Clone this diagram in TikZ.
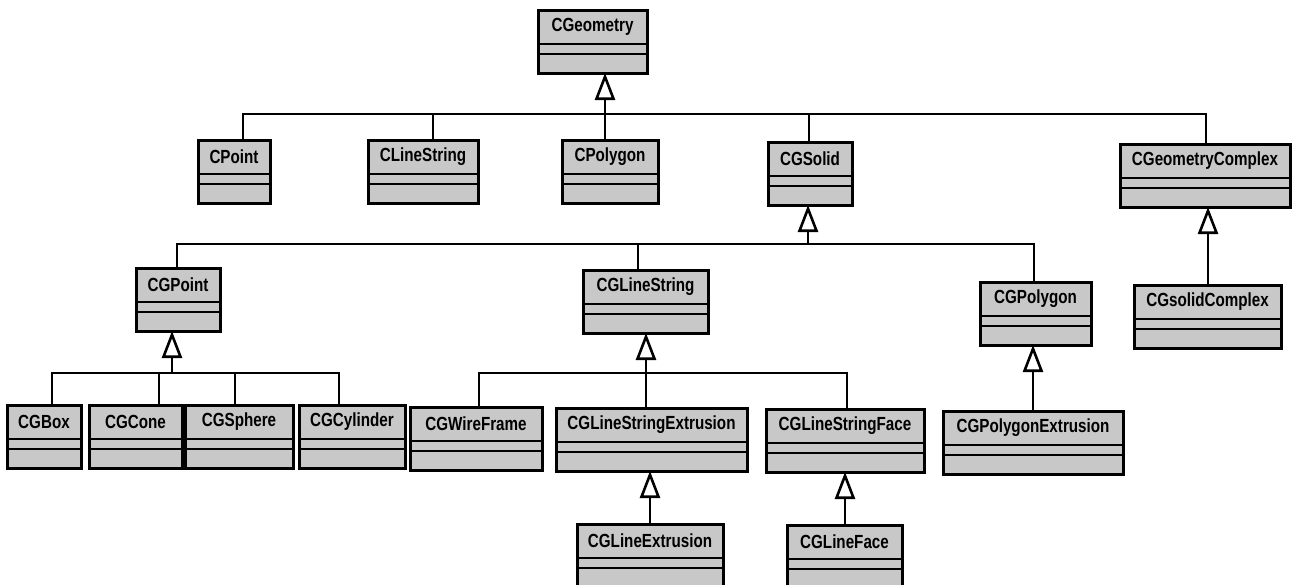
\documentclass[tikz,border=0pt]{standalone}
\usepackage{fontspec}
\newfontfamily\umlfont{Liberation Sans}[FakeStretch=0.8]
\usetikzlibrary{arrows.meta,calc}
\definecolor{boxgray}{RGB}{200,200,200}
\tikzset{
  umlbox/.style={draw=black, line width=3pt, fill=boxgray, inner sep=0pt, outer sep=0pt, rectangle},
  umltext/.style={inner sep=0pt, font=\umlfont\bfseries\fontsize{19}{19}\selectfont, text=black},
  divider/.style={draw=black, line width=2.6pt},
  conn/.style={draw=black, line width=2.6pt, line cap=rect},
  gen/.style={draw=black, line width=2.6pt, -{Triangle[open, length=27pt, width=20pt, line width=2.6pt]}}
}
\newcommand\umlbox[5]{%
  \node[umlbox, minimum width={#3pt-#2pt}, minimum height=63pt, anchor=north west] (#1) at (#2,#4) {};
  \node[umltext] (#1-t) at ($(#1.north)+(0,17)$) {#5};
  \draw[divider] ([yshift=-34pt]#1.north west) -- ([yshift=-34pt]#1.north east);
  \draw[divider] ([yshift=-44pt]#1.north west) -- ([yshift=-44pt]#1.north east);
}
\begin{document}
\begin{tikzpicture}[x=1pt, y=-1pt]
\useasboundingbox (0,0) rectangle (1298,584);
\clip (0,0) rectangle (1298,584);
\fill[white] (0,0) rectangle (1298,584);

% boxes
\umlbox{CGeometry}{538}{647}{10}{CGeometry}
\umlbox{CPoint}{198}{270}{140}{CPoint}
\umlbox{CLineString}{368}{478}{140}{CLineString}
\umlbox{CPolygon}{562}{658}{140}{CPolygon}
\umlbox{CGSolid}{768}{852}{142}{CGSolid}
\umlbox{CGeometryComplex}{1120}{1290}{144}{CGeometryComplex}
\umlbox{CGPoint}{136}{220}{268}{CGPoint}
\umlbox{CGLineString}{583}{708}{270}{CGLineString}
\umlbox{CGPolygon}{980}{1091}{282}{CGPolygon}
\umlbox{CGsolidComplex}{1134}{1281}{285}{CGsolidComplex}
\umlbox{CGBox}{7}{81}{405}{CGBox}
\umlbox{CGCone}{89}{182}{405}{CGCone}
\umlbox{CGSphere}{185}{293}{405}{CGSphere}
\umlbox{CGCylinder}{299}{405}{405}{CGCylinder}
\umlbox{CGWireFrame}{410}{542}{407}{CGWireFrame}
\umlbox{CGLineStringExtrusion}{556}{747}{408}{CGLineStringExtrusion}
\umlbox{CGLineStringFace}{766}{924}{409}{CGLineStringFace}
\umlbox{CGPolygonExtrusion}{943}{1123}{411}{CGPolygonExtrusion}
\umlbox{CGLineExtrusion}{577}{723}{524}{CGLineExtrusion}
\umlbox{CGLineFace}{787}{902}{525}{CGLineFace}

% level 1 bus
\coordinate (j1) at (605,114);
\coordinate (s1a) at (243,114);
\coordinate (s1b) at (433,114);
\coordinate (s1d) at (809,114);
\coordinate (s1e) at (1206,114);
\draw[conn] (s1a) -- (s1e);
\draw[conn] (s1a) -- (s1a |- CPoint.north);
\draw[conn] (s1b) -- (s1b |- CLineString.north);
\draw[conn] (j1) -- (j1 |- CPolygon.north);
\draw[conn] (s1d) -- (s1d |- CGSolid.north);
\draw[conn] (s1e) -- (s1e |- CGeometryComplex.north);
\draw[gen] (j1) -- (j1 |- CGeometry.south);

% level 2 bus (children of CGSolid)
\coordinate (j2) at (808,244);
\coordinate (s2a) at (177,244);
\coordinate (s2b) at (638,244);
\coordinate (s2c) at (1034,244);
\draw[conn] (s2a) -- (s2c);
\draw[conn] (s2a) -- (s2a |- CGPoint.north);
\draw[conn] (s2b) -- (s2b |- CGLineString.north);
\draw[conn] (s2c) -- (s2c |- CGPolygon.north);
\draw[gen] (j2) -- (j2 |- CGSolid.south);

% CGsolidComplex -> CGeometryComplex
\coordinate (j5) at (1208,285);
\draw[gen] (j5) -- (j5 |- CGeometryComplex.south);

% CGPoint children
\coordinate (j3) at (172,373);
\coordinate (s3a) at (52,373);
\coordinate (s3b) at (159,373);
\coordinate (s3c) at (235,373);
\coordinate (s3d) at (339,373);
\draw[conn] (s3a) -- (s3d);
\draw[conn] (s3a) -- (s3a |- CGBox.north);
\draw[conn] (s3b) -- (s3b |- CGCone.north);
\draw[conn] (s3c) -- (s3c |- CGSphere.north);
\draw[conn] (s3d) -- (s3d |- CGCylinder.north);
\draw[gen] (j3) -- (j3 |- CGPoint.south);

% CGLineString children
\coordinate (j4) at (646,373);
\coordinate (s4a) at (479,373);
\coordinate (s4c) at (847,373);
\draw[conn] (s4a) -- (s4c);
\draw[conn] (s4a) -- (s4a |- CGWireFrame.north);
\draw[conn] (j4) -- (j4 |- CGLineStringExtrusion.north);
\draw[conn] (s4c) -- (s4c |- CGLineStringFace.north);
\draw[gen] (j4) -- (j4 |- CGLineString.south);

% CGPolygonExtrusion -> CGPolygon
\coordinate (j6) at (1033,411);
\draw[gen] (j6) -- (j6 |- CGPolygon.south);

% CGLineExtrusion -> CGLineStringExtrusion
\coordinate (j7) at (650,524);
\draw[gen] (j7) -- (j7 |- CGLineStringExtrusion.south);

% CGLineFace -> CGLineStringFace
\coordinate (j8) at (845,525);
\draw[gen] (j8) -- (j8 |- CGLineStringFace.south);
\end{tikzpicture}
\end{document}
